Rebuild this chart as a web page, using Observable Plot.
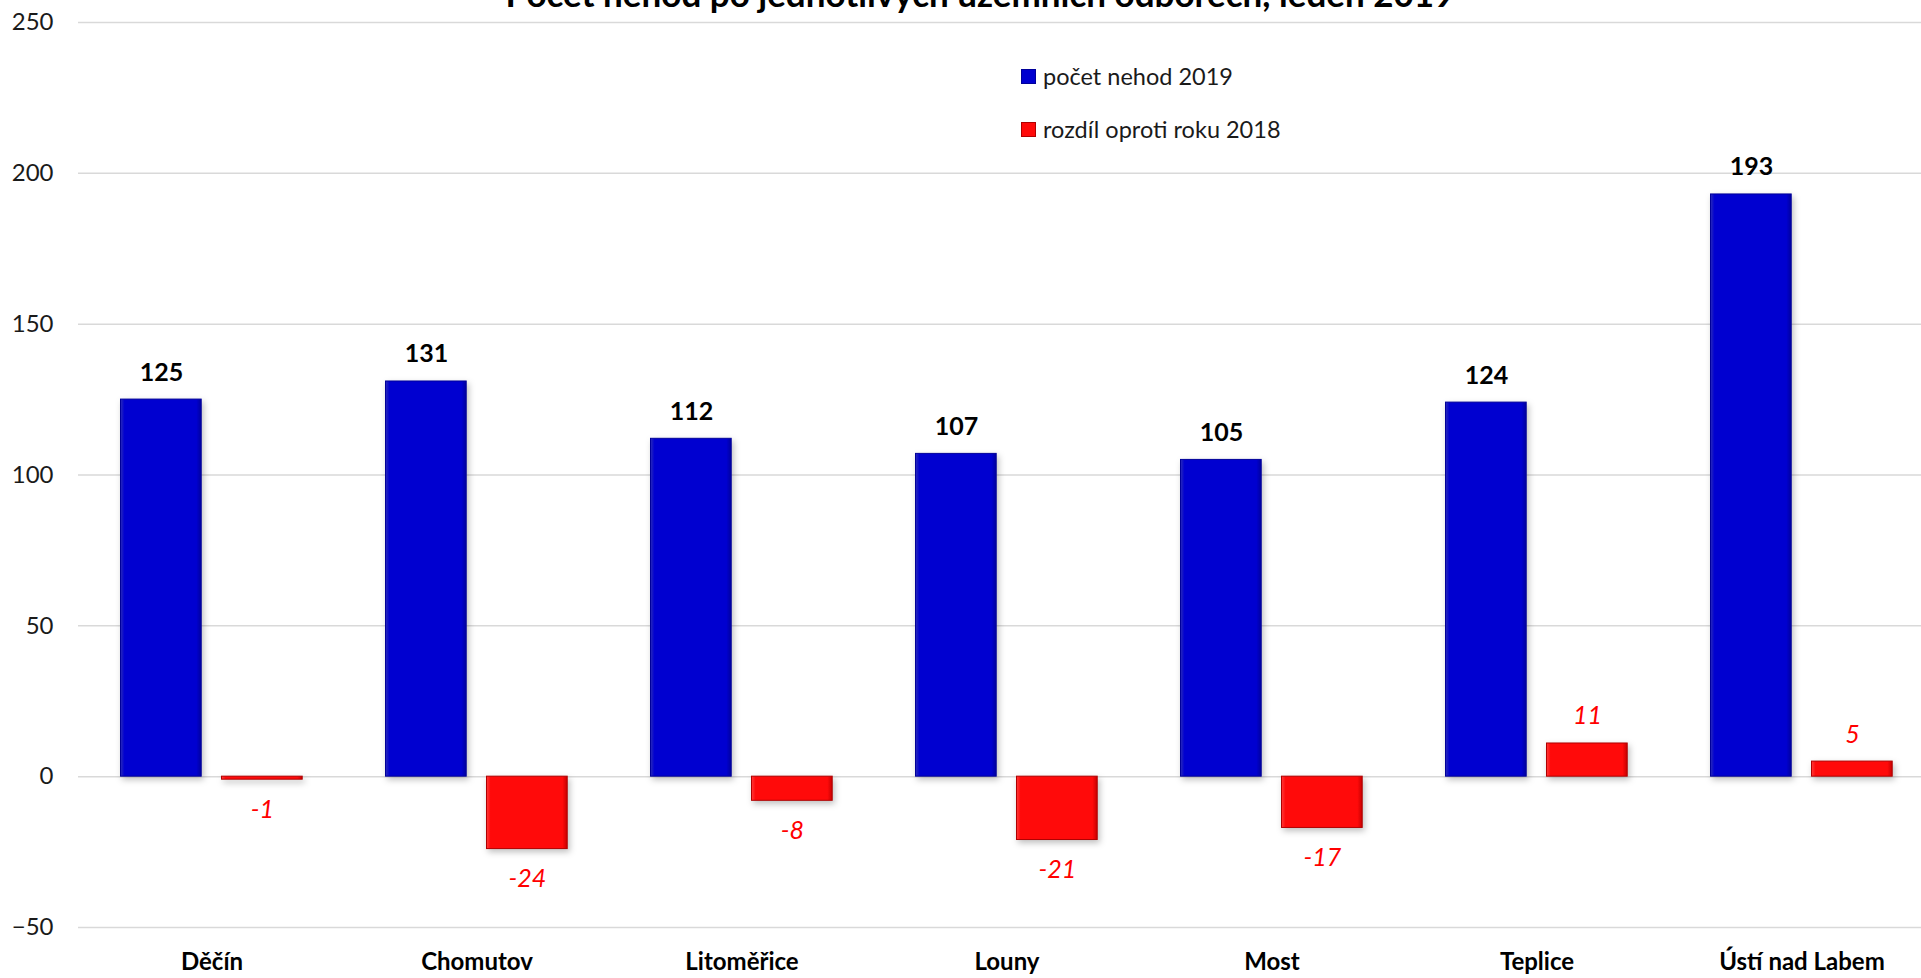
<!DOCTYPE html>
<html>
<head>
<meta charset="utf-8">
<script src="https://cdn.jsdelivr.net/npm/d3@7"></script>
<script src="https://cdn.jsdelivr.net/npm/@observablehq/plot@0.6"></script>
<style>
  html, body { margin: 0; padding: 0; background: #fff; overflow: hidden; }
  body { width: 1921px; height: 978px; position: relative; font-family: Lato, "Open Sans", sans-serif; }
  #title { position: absolute; left: 0; width: 1960px; top: -24px; text-align: center; font-weight: 700; font-size: 35px; line-height: 35px; color: #000; white-space: nowrap; }
  #legend { position: absolute; left: 1021px; top: 62px; font-size: 23.5px; color: #1a1a1a; }
  #legend .item { display: flex; align-items: center; height: 28px; margin-bottom: 25px; }
  #legend .sw { width: 15px; height: 15px; margin-right: 7px; box-sizing: border-box; }
  #chart { position: absolute; left: 0; top: 0; }
</style>
</head>
<body>
<div id="chart"></div>
<div id="title">Počet nehod po jednotlivých územních odborech, leden 2019</div>
<div id="legend"></div>
<script>
const categories = ["Děčín", "Chomutov", "Litoměřice", "Louny", "Most", "Teplice", "Ústí nad Labem"];
const count2019 = [125, 131, 112, 107, 105, 124, 193];
const diff2018 = [-1, -24, -8, -21, -17, 11, 5];
const seriesNames = ["počet nehod 2019", "rozdíl oproti roku 2018"];
const yTicks = [-50, 0, 50, 100, 150, 200, 250];

const data = categories.map((c, i) => ({category: c, count: count2019[i], diff: diff2018[i]}));

const blue = "#0000d0";
const red = "#ff0a0a";

const plot = Plot.plot({
  width: 1921,
  height: 978,
  marginLeft: 78,
  marginRight: 0,
  marginTop: 22,
  marginBottom: 51,
  style: {fontFamily: "Lato, 'Open Sans', sans-serif", background: "transparent"},
  x: {domain: categories, range: [78, 1935], padding: 0, label: null},
  y: {domain: [-50, 250], label: null},
  marks: [
    Plot.gridY(yTicks, {stroke: "#d9d9d9", strokeOpacity: 1, strokeWidth: 1.5}),
    Plot.axisY(yTicks, {tickSize: 0, tickPadding: 25, fontSize: 24, fill: "#1a1a1a", label: null}),
    Plot.axisX({tickSize: 0, tickPadding: 25, fontSize: 24, fontWeight: 700, fill: "#000", label: null}),
    Plot.barY(data, {x: "category", y: "count", fill: "url(#gBlue)", stroke: "#00009a", strokeWidth: 1, insetLeft: 41.5, insetRight: 142.8}),
    Plot.barY(data, {x: "category", y: "diff", fill: "url(#gRed)", stroke: "#b00000", strokeWidth: 1, insetLeft: 142.5, insetRight: 41.8}),
    Plot.text(data, {x: "category", y: "count", text: d => String(d.count), dx: -50.6, dy: -19, lineAnchor: "bottom", fontSize: 25, fontWeight: 700, fill: "#000"}),
    Plot.text(data.filter(d => d.diff >= 0), {x: "category", y: "diff", text: d => String(d.diff), dx: 50.4, dy: -19, lineAnchor: "bottom", fontSize: 25, fontStyle: "italic", fill: "#ff0000"}),
    Plot.text(data.filter(d => d.diff < 0), {x: "category", y: "diff", text: d => String(d.diff), dx: 50.4, dy: 38, lineAnchor: "bottom", fontSize: 25, fontStyle: "italic", fill: "#ff0000"})
  ]
});

// gradients for bevel look
const svg = d3.select(plot);
const defs = svg.insert("defs", ":first-child");
function grad(id, edgeL, mid, edgeR) {
  const g = defs.append("linearGradient").attr("id", id).attr("x1", "0").attr("x2", "1").attr("y1", "0").attr("y2", "0");
  g.append("stop").attr("offset", "0%").attr("stop-color", edgeL);
  g.append("stop").attr("offset", "5%").attr("stop-color", mid);
  g.append("stop").attr("offset", "94%").attr("stop-color", mid);
  g.append("stop").attr("offset", "100%").attr("stop-color", edgeR);
}
grad("gBlue", "#2a2ab8", blue, "#00009e");
grad("gRed", "#ff3a3a", red, "#c80000");
svg.selectAll("g[aria-label='bar']").style("filter", "drop-shadow(2px 3px 3px rgba(0,0,0,0.25))");

document.getElementById("chart").appendChild(plot);

// legend
const legend = document.getElementById("legend");
[[seriesNames[0], blue, "#00009a"], [seriesNames[1], red, "#b00000"]].forEach(([name, c, s]) => {
  const item = document.createElement("div");
  item.className = "item";
  const sw = document.createElement("span");
  sw.className = "sw";
  sw.style.background = c;
  sw.style.border = "1px solid " + s;
  const t = document.createElement("span");
  t.textContent = name;
  item.appendChild(sw);
  item.appendChild(t);
  legend.appendChild(item);
});
</script>
</body>
</html>
